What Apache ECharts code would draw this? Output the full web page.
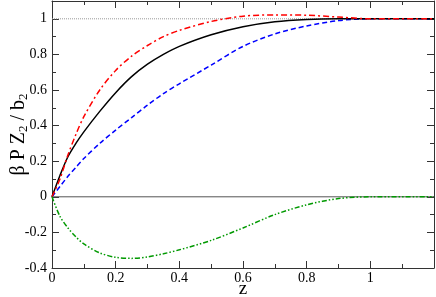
<!DOCTYPE html>
<html><head><meta charset="utf-8">
<script src="https://cdn.jsdelivr.net/npm/echarts@6/dist/echarts.min.js"></script>
<style>html,body{margin:0;padding:0;background:#fff}#c{width:436px;height:297px}</style>
</head><body><div id="c"></div>
<script>
const zValues = [0, 0.025, 0.05, 0.075, 0.1, 0.15, 0.2, 0.25, 0.3, 0.35, 0.4, 0.5, 0.6, 0.7, 0.8, 0.9, 1.0, 1.2];
const blackY = [0, 0.12, 0.225, 0.30, 0.365, 0.48, 0.585, 0.675, 0.745, 0.80, 0.845, 0.91, 0.955, 0.983, 0.996, 1.0, 1.0, 1.0];
const redY   = [0, 0.10, 0.235, 0.35, 0.45, 0.60, 0.71, 0.79, 0.85, 0.90, 0.935, 0.985, 1.015, 1.022, 1.02, 1.01, 1.0, 1.0];
const blueY  = [0, 0.058, 0.115, 0.165, 0.215, 0.30, 0.375, 0.445, 0.515, 0.58, 0.635, 0.74, 0.845, 0.915, 0.96, 0.99, 1.0, 1.0];
const greenY = [0, -0.11, -0.175, -0.225, -0.265, -0.315, -0.34, -0.346, -0.338, -0.32, -0.298, -0.245, -0.175, -0.10, -0.045, -0.01, 0, 0];
const zeroLine = [[0, 0], [1.2, 0]];
const oneLine = [[0, 1], [1, 1]];
const xTicks = {min: 0, max: 1.2, interval: 0.2};
const yTicks = {min: -0.4, max: 1.1, interval: 0.2};

const pairs = ys => zValues.map((z, i) => [z, ys[i]]);
const font = '"Liberation Serif", "DejaVu Serif", serif';
const axisCommon = {
  type: 'value',
  axisLine: {show: true, onZero: false, lineStyle: {color: '#333', width: 1}},
  axisTick: {show: true, inside: true, length: 7, lineStyle: {color: '#333'}},
  minorTick: {show: true, splitNumber: 2, length: 4, lineStyle: {color: '#333'}},
  splitLine: {show: false},
};
const chart = echarts.init(document.getElementById('c'), null, {renderer: 'canvas'});
chart.setOption({
  animation: false,
  backgroundColor: '#fff',
  grid: {left: 52, right: 2, top: 1, bottom: 29, containLabel: false, outerBoundsMode: 'none'},
  xAxis: [
    Object.assign({}, axisCommon, xTicks, {
      position: 'bottom',
      name: 'z', nameLocation: 'middle', nameGap: 12, nameMoveOverlap: false,
      nameTextStyle: {fontFamily: font, fontSize: 19, color: '#000'},
      axisLabel: {fontFamily: font, fontSize: 14, color: '#000', margin: 3, showMaxLabel: false,
        formatter: v => String(Math.round(v * 10) / 10)}
    }),
    Object.assign({}, axisCommon, xTicks, {position: 'top', axisLabel: {show: false}})
  ],
  yAxis: [
    Object.assign({}, axisCommon, yTicks, {
      position: 'left',
      name: '{a|β P Z}{s|2}{a| / b}{s|2}', nameLocation: 'middle', nameGap: 22, nameRotate: 90, nameMoveOverlap: false,
      nameTextStyle: {rich: {
        a: {fontFamily: font, fontSize: 20, color: '#000'},
        s: {fontFamily: font, fontSize: 13, color: '#000', padding: [9, 0, 0, 0]}
      }},
      axisLabel: {fontFamily: font, fontSize: 14, color: '#000', margin: 5, showMaxLabel: false,
        formatter: v => String(Math.round(v * 10) / 10)}
    }),
    Object.assign({}, axisCommon, yTicks, {position: 'right', axisLabel: {show: false}})
  ],
  series: [
    {type: 'line', data: zeroLine, symbol: 'none', lineStyle: {color: '#555', width: 1}, z: 1},
    {type: 'line', data: oneLine, symbol: 'none', lineStyle: {color: '#999', width: 1, type: [1, 1]}, z: 1},
    {type: 'line', data: pairs(blueY), symbol: 'none', smooth: 0.3, lineStyle: {color: '#0000ff', width: 1.5, type: [5, 3]}},
    {type: 'line', data: pairs(blackY), symbol: 'none', smooth: 0.3, lineStyle: {color: '#000', width: 1.5, type: 'solid'}},
    {type: 'line', data: pairs(redY), symbol: 'none', smooth: 0.3, lineStyle: {color: '#ff0000', width: 1.5, type: [6, 3, 2, 3]}},
    {type: 'line', data: pairs(greenY), symbol: 'none', smooth: 0.3, lineStyle: {color: '#009900', width: 1.5, type: [5, 2, 1.5, 2, 1.5, 2]}}
  ]
});
</script></body></html>
